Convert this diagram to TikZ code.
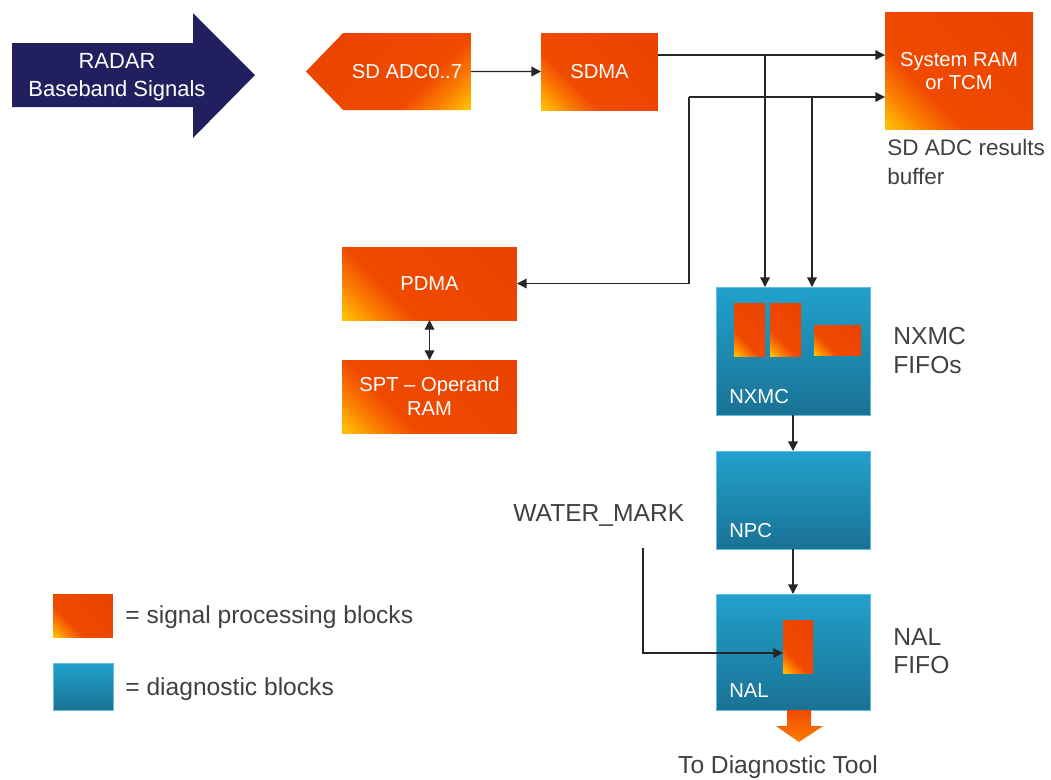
\documentclass[tikz,border=0pt]{standalone}
\usepackage{fontspec}
\setmainfont{Liberation Sans}
\usetikzlibrary{arrows.meta,shapes.symbols}

\definecolor{sigred}{RGB}{240,74,0}
\definecolor{sigdark}{RGB}{232,64,0}
\definecolor{sigmid}{RGB}{252,125,0}
\definecolor{sigyel}{RGB}{255,190,0}
\definecolor{diagtop}{RGB}{33,161,204}
\definecolor{diagbot}{RGB}{26,114,149}
\definecolor{radarblue}{RGB}{34,31,94}
\definecolor{notegray}{RGB}{64,64,64}
\definecolor{wirecol}{RGB}{38,38,38}

\pgfdeclarehorizontalshading{sigshade}{100bp}{color(0bp)=(sigyel); color(16bp)=(sigyel); color(26bp)=(sigmid); color(36bp)=(sigred); color(100bp)=(sigdark)}

\newcommand{\blockfont}{\fontsize{11.5}{13.6}\selectfont}
\newcommand{\notefont}{\fontsize{14}{16.2}\selectfont}
\newcommand{\smallnotefont}{\fontsize{12.8}{16}\selectfont}
\newcommand{\radarfont}{\fontsize{12.5}{15.9}\selectfont}

\begin{document}
\begin{tikzpicture}[x=0.02cm, y=-0.02cm,
  >={Triangle[length=5.5pt,width=5.5pt]},
  sigblock/.style={shade, shading=sigshade, shading angle=45, text=white, font=\blockfont, align=center, inner sep=0pt, outer sep=0pt},
  diagblock/.style={top color=diagtop, bottom color=diagbot, draw=diagtop!70!white, line width=0.4pt, inner sep=0pt, outer sep=0pt, minimum width=3.08cm},
  fifo/.style={shade, shading=sigshade, shading angle=45, inner sep=0pt, outer sep=0pt},
  blocklabel/.style={anchor=west, text=white, font=\blockfont, inner sep=0pt},
  note/.style={anchor=west, text=notegray, font=\notefont, align=left, inner sep=0pt},
  wire/.style={draw=wirecol, line width=0.75pt}]
          \useasboundingbox (0,0) rectangle (1051,779);
          \fill[radarblue] (12,43) -- (193,43) -- (193,13) -- (255,75) -- (193,138) -- (193,107) -- (12,107) -- cycle;
          \node[text=white, font=\radarfont, align=center] (radar) at (117,77) {RADAR\\Baseband Signals};
          \node[sigblock, shading angle=135, signal, signal to=west, signal pointer angle=92, minimum width=3.3cm, minimum height=1.54cm] (adc) at (407,71.5) {SD ADC0..7};
          \node[sigblock, minimum width=2.34cm, minimum height=1.54cm] (sdma) at (599.5,71.5) {SDMA};
          \node[sigblock, minimum width=2.96cm, minimum height=2.36cm] (ram) at (959,71) {System RAM\\or TCM};
          \node[note, font=\smallnotefont] (ramnote) at (887,162) {SD ADC results\\buffer};
          \node[sigblock, minimum width=3.5cm, minimum height=1.46cm] (pdma) at (429.5,283.5) {PDMA};
          \node[sigblock, minimum width=3.5cm, minimum height=1.46cm] (spt) at (429.5,396.5) {SPT – Operand\\RAM};
          \node[diagblock, minimum height=2.56cm] (nxmc) at (793,351) {};
          \node[fifo, minimum width=0.62cm, minimum height=1.06cm] (fifoa) at (749.5,329.5) {};
          \node[fifo, minimum width=0.62cm, minimum height=1.06cm] (fifob) at (785.5,329.5) {};
          \node[fifo, minimum width=0.94cm, minimum height=0.6cm] (fifoc) at (837.5,340) {};
          \node[blocklabel] (nxmclbl) at (729,397) {NXMC};
          \node[note] (nxmcnote) at (893,350.5) {NXMC\\FIFOs};
          \node[diagblock, minimum height=1.96cm] (npc) at (793,500) {};
          \node[blocklabel] (npclbl) at (729,531) {NPC};
          \node[diagblock, minimum height=2.32cm] (nal) at (793,652) {};
          \node[fifo, minimum width=0.6cm, minimum height=1.06cm] (nalfifo) at (798,646.5) {};
          \node[blocklabel] (nallbl) at (729,691) {NAL};
          \node[note] (nalnote) at (893,651) {NAL\\FIFO};
          \node[note] (wm) at (513,515) {WATER\_MARK};
          \shade[top color=sigred, bottom color=sigmid] (787,710) -- (811,710) -- (811,726) -- (823,726) -- (799,742) -- (776,726) -- (787,726) -- cycle;
          \node[note, anchor=center] (diagtool) at (778,767) {To Diagnostic Tool};
          \node[sigblock, minimum width=1.2cm, minimum height=0.86cm] (keysig) at (83,615.5) {};
          \node[note] (keysigtxt) at (125,617) {= signal processing blocks};
          \node[diagblock, minimum width=1.2cm, minimum height=0.94cm] (keydiag) at (83,686.5) {};
          \node[note] (keydiagtxt) at (125,689) {= diagnostic blocks};
          \coordinate (ramin) at (765,55);
          \coordinate (ramtap) at (812,97);
          \coordinate (pdmatap) at (689,97);
          \coordinate (wmtap) at (643,548);
          \draw[wire, ->] (adc) -- (sdma);
          \draw[wire, ->] (sdma.east |- ramin) -- (ram.west |- ramin);
          \draw[wire, ->] (ramin) -- (ramin |- nxmc.north);
          \draw[wire, ->] (pdmatap) -- (ram.west |- pdmatap);
          \draw[wire, ->] (ramtap) -- (ramtap |- nxmc.north);
          \draw[wire, ->] (pdmatap) |- (pdma.east);
          \draw[wire, <->] (pdma) -- (spt);
          \draw[wire, ->] (nxmc) -- (npc);
          \draw[wire, ->] (npc) -- (nal);
          \draw[wire, ->] (wmtap) |- ([yshift=-0.13cm]nalfifo.west);
        \end{tikzpicture}
\end{document}
